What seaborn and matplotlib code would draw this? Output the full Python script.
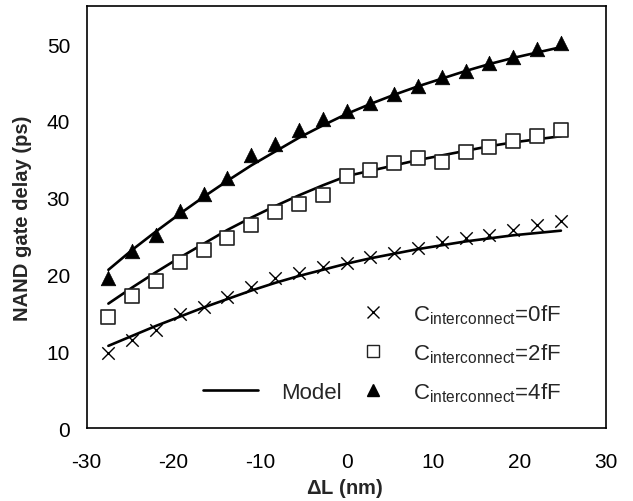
import numpy as np
import pandas as pd
import matplotlib
matplotlib.use("Agg")
import matplotlib.pyplot as plt
from matplotlib.lines import Line2D
import seaborn as sns

delta_L = [-27.5, -24.75, -22.0, -19.25, -16.5, -13.75, -11.0, -8.25, -5.5, -2.75,
           0.0, 2.75, 5.5, 8.25, 11.0, 13.75, 16.5, 19.25, 22.0, 24.75]

sim_0fF = [9.8, 11.5, 12.8, 14.9, 15.8, 17.0, 18.3, 19.5, 20.2, 21.0,
           21.5, 22.3, 22.8, 23.4, 24.2, 24.8, 25.2, 25.8, 26.4, 27.0]
sim_2fF = [14.5, 17.2, 19.1, 21.6, 23.2, 24.8, 26.5, 28.1, 29.2, 30.3,
           32.8, 33.6, 34.5, 35.2, 34.7, 36.0, 36.6, 37.4, 38.0, 38.8]
sim_4fF = [19.5, 23.0, 25.2, 28.3, 30.5, 32.5, 35.5, 37.0, 38.8, 40.2,
           41.3, 42.3, 43.5, 44.5, 45.7, 46.5, 47.5, 48.3, 49.3, 50.2]

model_0fF = [10.7, 12.0, 13.3, 14.5, 15.7, 16.8, 17.9, 18.9, 19.8, 20.6,
             21.4, 22.1, 22.7, 23.3, 23.8, 24.3, 24.7, 25.1, 25.4, 25.7]
model_2fF = [16.2, 18.3, 20.3, 22.2, 24.0, 25.8, 27.4, 28.9, 30.3, 31.6,
             32.8, 33.5, 34.2, 34.9, 35.5, 36.1, 36.7, 37.2, 37.6, 38.0]
model_4fF = [20.6, 23.2, 25.6, 27.9, 30.1, 32.2, 34.2, 36.0, 37.8, 39.4,
             40.9, 42.2, 43.4, 44.5, 45.5, 46.5, 47.4, 48.2, 48.9, 49.6]

labels = [r"C$_{\mathrm{interconnect}}$=0fF",
          r"C$_{\mathrm{interconnect}}$=2fF",
          r"C$_{\mathrm{interconnect}}$=4fF"]
x_ticks = [-30, -20, -10, 0, 10, 20, 30]
y_ticks = [0, 10, 20, 30, 40, 50]

sns.set_style("white")
plt.rcParams['font.family'] = ['Liberation Sans', 'DejaVu Sans']
plt.rcParams['mathtext.fontset'] = 'custom'
plt.rcParams['mathtext.rm'] = 'Liberation Sans'
plt.rcParams['mathtext.it'] = 'Liberation Sans:italic'
plt.rcParams['mathtext.bf'] = 'Liberation Sans:bold'
plt.rcParams['axes.unicode_minus'] = False

fig = plt.figure(figsize=(6.33, 5.02), dpi=100)
ax = fig.add_axes([0.137, 0.1454, 0.821, 0.8413])

model_df = pd.DataFrame({
    "dL": delta_L * 3,
    "delay": model_0fF + model_2fF + model_4fF,
    "case": ["0"] * 20 + ["2"] * 20 + ["4"] * 20,
})
for c in ["0", "2", "4"]:
    sns.lineplot(data=model_df[model_df["case"] == c], x="dL", y="delay",
                 color="black", linewidth=1.9, ax=ax, legend=False)

sns.scatterplot(x=delta_L, y=sim_0fF, marker="x", s=80, color="black",
                linewidth=1.0, ax=ax, legend=False, zorder=3)
sns.scatterplot(x=delta_L, y=sim_2fF, marker="s", s=110, facecolor="white",
                edgecolor="#222222", linewidth=1.2, ax=ax, legend=False, zorder=3)
sns.scatterplot(x=delta_L, y=sim_4fF, marker="^", s=110, color="black",
                edgecolor="black", linewidth=0.5, ax=ax, legend=False, zorder=4)

ax.set_xlim(-30, 30)
ax.set_ylim(0, 55)
ax.set_xticks(x_ticks)
ax.set_yticks(y_ticks)
ax.tick_params(direction="in", length=5, width=1, labelsize=15, colors="black")
ax.tick_params(axis="x", pad=17)
ax.tick_params(axis="y", pad=12)
for s in ax.spines.values():
    s.set_linewidth(1.2)
    s.set_color("black")
ax.set_xlabel(r"$\mathbf{\Delta}$L (nm)", fontsize=14.5, fontweight="bold")
ax.set_ylabel("NAND gate delay (ps)", fontsize=14.5, fontweight="bold")
ax.xaxis.label.set_va("center")
ax.yaxis.label.set_va("center")
ax.xaxis.set_label_coords(0.496, -0.1397)
ax.yaxis.set_label_coords(-0.1244, 0.5)

h_model = Line2D([], [], color="black", linewidth=1.9)
h0 = Line2D([], [], linestyle="none", marker="x", markersize=8, color="black", markeredgewidth=1.0)
h2 = Line2D([], [], linestyle="none", marker="s", markersize=8, markerfacecolor="white",
            markeredgecolor="#222222", markeredgewidth=1.0)
h4 = Line2D([], [], linestyle="none", marker="^", markersize=9, color="black")

leg_model = ax.legend([h_model], ["Model"], loc="center left", frameon=False,
                      fontsize=16, handlelength=2.5, handletextpad=1.0,
                      bbox_to_anchor=(0.185, 0.0852))
ax.add_artist(leg_model)
ax.legend([h0, h2, h4], labels, loc="center left", frameon=False, fontsize=16,
          labelspacing=0.69, handlelength=1.2, handletextpad=1.2,
          bbox_to_anchor=(0.487, 0.1776))

fig.savefig("out.png", dpi=100)
